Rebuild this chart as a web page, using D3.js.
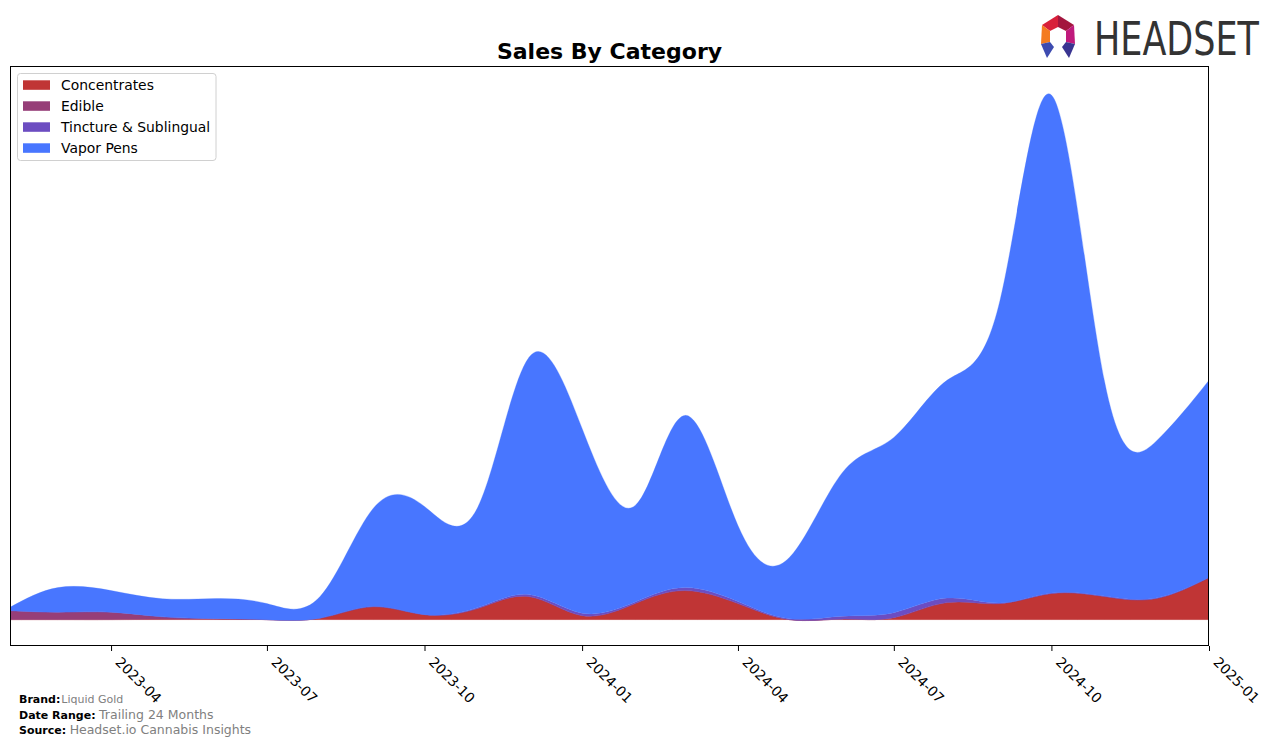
<!DOCTYPE html>
<html>
<head>
<meta charset="utf-8">
<script src="https://cdn.jsdelivr.net/npm/d3@7"></script>
<style>
  html, body { margin: 0; padding: 0; background: #fff; }
  svg { display: block; }
  text { font-family: "DejaVu Sans", sans-serif; }
</style>
</head>
<body>
<svg id="chart" width="1276" height="746"></svg>
<script>
// ---- Data (monthly) ----
const months = ["2023-02","2023-03","2023-04","2023-05","2023-06","2023-07","2023-08","2023-09","2023-10","2023-11","2023-12","2024-01",
                "2024-02","2024-03","2024-04","2024-05","2024-06","2024-07","2024-08","2024-09","2024-10","2024-11","2024-12","2025-01"];
const categories = ["Concentrates", "Edible", "Tincture & Sublingual", "Vapor Pens"];
const concentrates = [0, 0, 0, 0.3, 0.5, 0, 1.5, 13, 5, 11, 23, 4, 16, 29, 16, 0, 0.5, 2, 17, 16, 26, 23, 21, 42];
const edible       = [9, 7.5, 7.5, 2.5, 0.5, 0, 0, 0, 0, 0, 0, 0, 0, 0, 0, 0, 0, 0, 0, 0, 0, 0, 0, 0];
const tincture     = [0, 0, 0, 0, 0, 0, 0, 0, 0, 1, 2, 2.5, 1.5, 3, 2, 1, 3, 5, 4.5, 0.7, 0.5, 0.5, 0.5, 0];
const vaporPens    = [3.3, 24.5, 21.5, 18, 20, 16, 21.5, 98, 108, 100, 237, 184.5, 96.5, 172, 76, 61, 143.5, 175, 217.5, 302.3, 497.5, 214.5, 156.5, 197];
const xTickLabels = ["2023-04","2023-07","2023-10","2024-01","2024-04","2024-07","2024-10","2025-01"];
const colors = ["#C03535", "#963E78", "#6C4DC1", "#4876FF"];

const parse = d3.utcParse("%Y-%m");
const table = months.map((m, i) => ({
  date: parse(m),
  "Concentrates": concentrates[i],
  "Edible": edible[i],
  "Tincture & Sublingual": tincture[i],
  "Vapor Pens": vaporPens[i]
}));

const svg = d3.select("#chart");
const L = 10, R = 1209, T = 66, B = 646;

const x = d3.scaleUtc()
  .domain(d3.extent(table, d => d.date))
  .range([L, R]);

const totals = table.map(d => categories.reduce((s, k) => s + d[k], 0));
const M = d3.max(totals) * 1.005;
const y = d3.scaleLinear().domain([-0.05 * M, 1.05 * M]).range([B, T]);

const series = d3.stack().keys(categories)(table);

svg.append("defs").append("clipPath").attr("id", "plotclip")
  .append("rect").attr("x", L).attr("y", T).attr("width", R - L).attr("height", B - T);

const area = d3.area()
  .curve(d3.curveNatural)
  .x(d => x(d.data.date))
  .y0(d => y(d[0]))
  .y1(d => y(d[1]));

svg.append("g").attr("clip-path", "url(#plotclip)")
  .selectAll("path").data(series).join("path")
  .attr("d", area)
  .attr("fill", (d, i) => colors[i])
  .attr("stroke", (d, i) => colors[i])
  .attr("stroke-width", 0.3);

// frame
svg.append("rect").attr("x", L + 0.5).attr("y", T + 0.5)
  .attr("width", R - L - 1).attr("height", B - T - 1)
  .attr("fill", "none").attr("stroke", "#000").attr("stroke-width", 1);

// x axis
const tickDates = xTickLabels.map(s => parse(s));
const xAxis = d3.axisBottom(x).tickValues(tickDates).tickSize(5).tickFormat(d3.utcFormat("%Y-%m"));
const gx = svg.append("g").attr("transform", `translate(0,${B})`).call(xAxis);
gx.select(".domain").remove();
gx.selectAll(".tick line").attr("stroke", "#000").attr("stroke-width", 1);
gx.selectAll(".tick text")
  .attr("font-family", "DejaVu Sans")
  .attr("font-size", "13.9px")
  .attr("fill", "#000")
  .attr("text-anchor", "start")
  .attr("y", 0).attr("dy", 0)
  .attr("transform", "translate(3,17) rotate(45)");

// title
svg.append("text").attr("x", (L + R) / 2).attr("y", 59)
  .attr("text-anchor", "middle")
  .attr("font-size", "22px").attr("font-weight", "bold")
  .attr("fill", "#000")
  .text("Sales By Category");

// legend
const lg = svg.append("g");
lg.append("rect").attr("x", 17.5).attr("y", 73.5).attr("width", 198.5).attr("height", 87)
  .attr("rx", 3).attr("fill", "#fff").attr("fill-opacity", 0.8)
  .attr("stroke", "#d0d0d0").attr("stroke-width", 1);
categories.forEach((c, i) => {
  const cy = 85 + i * 21;
  lg.append("rect").attr("x", 23).attr("y", cy - 4.7).attr("width", 27).attr("height", 9.5)
    .attr("fill", colors[i]);
  lg.append("text").attr("x", 61).attr("y", cy + 5)
    .attr("font-size", "13.9px").attr("fill", "#000").text(c);
});

// footer
function footer(label, value, yPos, valSize) {
  const t = svg.append("text").attr("x", 19).attr("y", yPos)
    .attr("font-size", "11px").attr("font-weight", "bold").attr("fill", "#000").text(label);
  const w = t.node().getComputedTextLength();
  svg.append("text").attr("x", 19 + w + (label === "Brand:" ? 1 : 3.5)).attr("y", yPos)
    .attr("font-size", valSize).attr("fill", "#808080").text(value);
}
footer("Brand:", "Liquid Gold", 703, "11px");
footer("Date Range:", "Trailing 24 Months", 719, "12.5px");
footer("Source:", "Headset.io Cannabis Insights", 734, "12.5px");

// logo
const logo = svg.append("g");
const polys = [
  {p: [[1042,25],[1058,15],[1058,27],[1050,31]], c: "#D8203A"},
  {p: [[1058,15],[1074,25],[1066,31],[1058,27]], c: "#A3163E"},
  {p: [[1042,25],[1050,31],[1050,42],[1041,44]], c: "#F47B20"},
  {p: [[1074,25],[1066,31],[1066,42],[1075,44]], c: "#C01A7C"},
  {p: [[1041,44],[1050,42],[1054,47],[1047,58]], c: "#3D4BB0"},
  {p: [[1075,44],[1066,42],[1062,47],[1069,58]], c: "#3A3591"}
];
polys.forEach(o => logo.append("polygon").attr("points", o.p.map(q => q.join(",")).join(" ")).attr("fill", o.c));
const headset = logo.append("text")
  .attr("font-family", "'Liberation Sans Narrow', 'DejaVu Sans Condensed', sans-serif")
  .attr("font-size", "47px").attr("fill", "#333")
  .text("HEADSET");
const natural = headset.node().getComputedTextLength();
const sx = Math.min(1, 165 / natural);
headset.attr("transform", `translate(1094,55) scale(${sx},1)`);
</script>
</body>
</html>
